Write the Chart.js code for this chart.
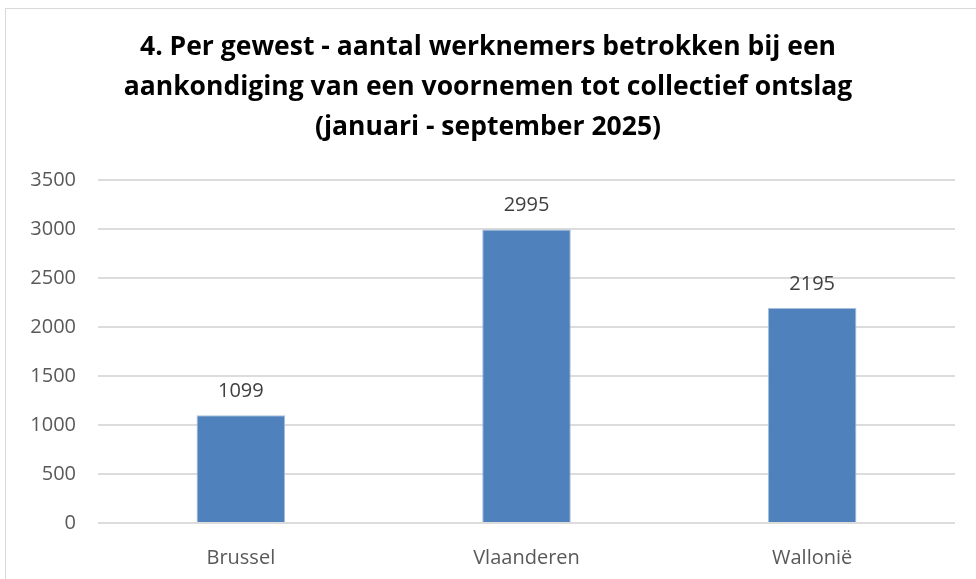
<!DOCTYPE html>
<html>
<head>
<meta charset="utf-8">
<script src="https://cdn.jsdelivr.net/npm/chart.js@4/dist/chart.umd.min.js"></script>
<style>
html,body{margin:0;padding:0;background:#fff;}
#wrap{width:976px;height:579px;position:relative;}
</style>
</head>
<body>
<div id="wrap"><canvas id="c" width="976" height="579"></canvas></div>
<script>
const categories = ["Brussel", "Vlaanderen", "Wallonië"];
const werknemers = [1099, 2995, 2195];
const titleLines = [
  "4. Per gewest - aantal werknemers betrokken bij een",
  "aankondiging van een voornemen tot collectief ontslag",
  "(januari - september 2025)"
];
const yMin = 0, yMax = 3500, yStep = 500;

const frame = {
  id: 'frame',
  beforeDraw(chart) {
    const ctx = chart.ctx;
    ctx.save();
    ctx.fillStyle = '#fff';
    ctx.fillRect(0, 0, chart.width, chart.height);
    ctx.strokeStyle = '#d9d9d9';
    ctx.lineWidth = 1;
    ctx.strokeRect(5.5, 8.5, chart.width + 10, chart.height + 10);
    ctx.restore();
  }
};

const valueLabels = {
  id: 'valueLabels',
  afterDatasetsDraw(chart) {
    const ctx = chart.ctx;
    ctx.save();
    ctx.font = '20px "Open Sans"';
    ctx.fillStyle = '#404040';
    ctx.textAlign = 'center';
    ctx.textBaseline = 'middle';
    chart.data.datasets.forEach((ds, di) => {
      chart.getDatasetMeta(di).data.forEach((bar, i) => {
        ctx.fillText(String(ds.data[i]), bar.x, bar.y - 24);
      });
    });
    ctx.restore();
  }
};

new Chart(document.getElementById('c'), {
  type: 'bar',
  data: {
    labels: categories,
    datasets: [{
      data: werknemers,
      backgroundColor: '#4f81bd',
      borderColor: '#a7bfdc',
      borderWidth: 1,
      barPercentage: 0.31,
      categoryPercentage: 1.0
    }]
  },
  options: {
    responsive: false,
    animation: false,
    layout: { padding: { left: 21, right: 21, top: 0, bottom: 0 } },
    plugins: {
      legend: { display: false },
      tooltip: { enabled: false },
      title: {
        display: true,
        text: titleLines,
        color: '#000',
        font: { family: '"Open Sans"', size: 26.5, weight: 'bold', lineHeight: 40 / 26.5 },
        padding: { top: 27, bottom: 33 }
      }
    },
    scales: {
      x: {
        grid: { display: false },
        border: { display: false },
        ticks: { color: '#595959', font: { family: '"Open Sans"', size: 20 }, padding: 15 },
        afterFit(s) { s.height = 56; }
      },
      y: {
        min: yMin, max: yMax,
        grid: { color: '#dcdcdc', lineWidth: 2, drawTicks: false },
        border: { display: false },
        ticks: {
          stepSize: yStep, color: '#595959', font: { family: '"Open Sans"', size: 20 }, padding: 22,
          callback: (v) => String(v)
        },
        afterFit(s) { s.width = 77; }
      }
    }
  },
  plugins: [frame, valueLabels]
});
</script>
</body>
</html>
